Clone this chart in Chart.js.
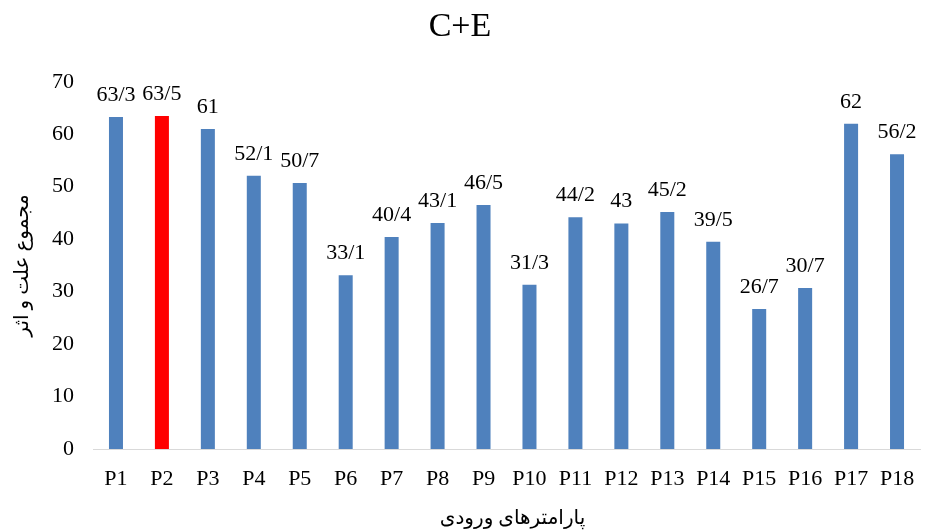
<!DOCTYPE html>
<html>
<head>
<meta charset="utf-8">
<script src="https://cdn.jsdelivr.net/npm/chart.js@4/dist/chart.umd.min.js"></script>
<style>
  html, body { margin: 0; padding: 0; background: #fff; }
  #wrap { width: 925px; height: 531px; }
</style>
</head>
<body>
<div id="wrap"><canvas id="c" width="925" height="531"></canvas></div>
<script>
const categories = ['P1','P2','P3','P4','P5','P6','P7','P8','P9','P10','P11','P12','P13','P14','P15','P16','P17','P18'];
const values = [63.3, 63.5, 61, 52.1, 50.7, 33.1, 40.4, 43.1, 46.5, 31.3, 44.2, 43, 45.2, 39.5, 26.7, 30.7, 62, 56.2];
const yTicks = [0, 10, 20, 30, 40, 50, 60, 70];
const highlighted = 'P2';
const xTitle = 'پارامترهای ورودی';
const yTitle = 'مجموع علت و اثر';

const serif = "'Liberation Serif', 'Times New Roman', 'DejaVu Sans', serif";

// Persian-style decimal separator: 63.3 -> 63/3
const fmt = v => String(v).replace('.', '/');

const valueLabels = {
  id: 'valueLabels',
  afterDatasetsDraw(chart) {
    const ctx = chart.ctx;
    const meta = chart.getDatasetMeta(0);
    const ds = chart.data.datasets[0];
    ctx.save();
    ctx.font = '22px ' + serif;
    ctx.fillStyle = '#000';
    ctx.textAlign = 'center';
    ctx.textBaseline = 'alphabetic';
    meta.data.forEach((bar, i) => {
      ctx.fillText(fmt(ds.data[i]), bar.x, bar.y - 16);
    });
    ctx.restore();
  }
};

// category axis caption below the tick labels
const bottomCaption = {
  id: 'bottomCaption',
  afterDraw(chart) {
    const ctx = chart.ctx;
    const area = chart.chartArea;
    ctx.save();
    ctx.font = '20px ' + serif;
    ctx.fillStyle = '#000';
    ctx.textAlign = 'center';
    ctx.textBaseline = 'middle';
    ctx.fillText(xTitle, (area.left + area.right) / 2 + 6, 519);
    ctx.restore();
  }
};

new Chart(document.getElementById('c'), {
  type: 'bar',
  data: {
    labels: categories,
    datasets: [{
      data: values,
      backgroundColor: categories.map(c => c === highlighted ? '#FF0000' : '#4F81BD'),
      barPercentage: 0.5,
      categoryPercentage: 0.61
    }]
  },
  options: {
    responsive: false,
    animation: false,
    layout: { padding: { left: 0, right: 5, top: 0, bottom: 0 } },
    plugins: {
      legend: { display: false },
      tooltip: { enabled: false },
      title: {
        display: true,
        text: 'C+E',
        color: '#000',
        font: { family: serif, size: 34, weight: 'normal' },
        padding: { top: 7, bottom: 34 }
      }
    },
    scales: {
      x: {
        afterFit(scale) {
          scale.height = 82;
          scale.paddingLeft = 0;
          scale.paddingRight = 0;
        },
        grid: { display: false, drawTicks: false },
        border: { display: true, color: '#D9D9D9', width: 1 },
        ticks: { color: '#000', font: { family: serif, size: 22 }, padding: 17, maxRotation: 0 }
      },
      y: {
        min: 0,
        max: 70,
        afterFit(scale) { scale.width = 93; },
        afterBuildTicks(scale) { scale.ticks = yTicks.map(v => ({ value: v })); },
        grid: { display: false, drawTicks: false },
        border: { display: false },
        ticks: { color: '#000', font: { family: serif, size: 22 }, padding: 19 },
        title: {
          display: true,
          text: yTitle,
          color: '#000',
          font: { family: serif, size: 20 },
          padding: { top: 11, bottom: 4 }
        }
      }
    }
  },
  plugins: [valueLabels, bottomCaption]
});
</script>
</body>
</html>
